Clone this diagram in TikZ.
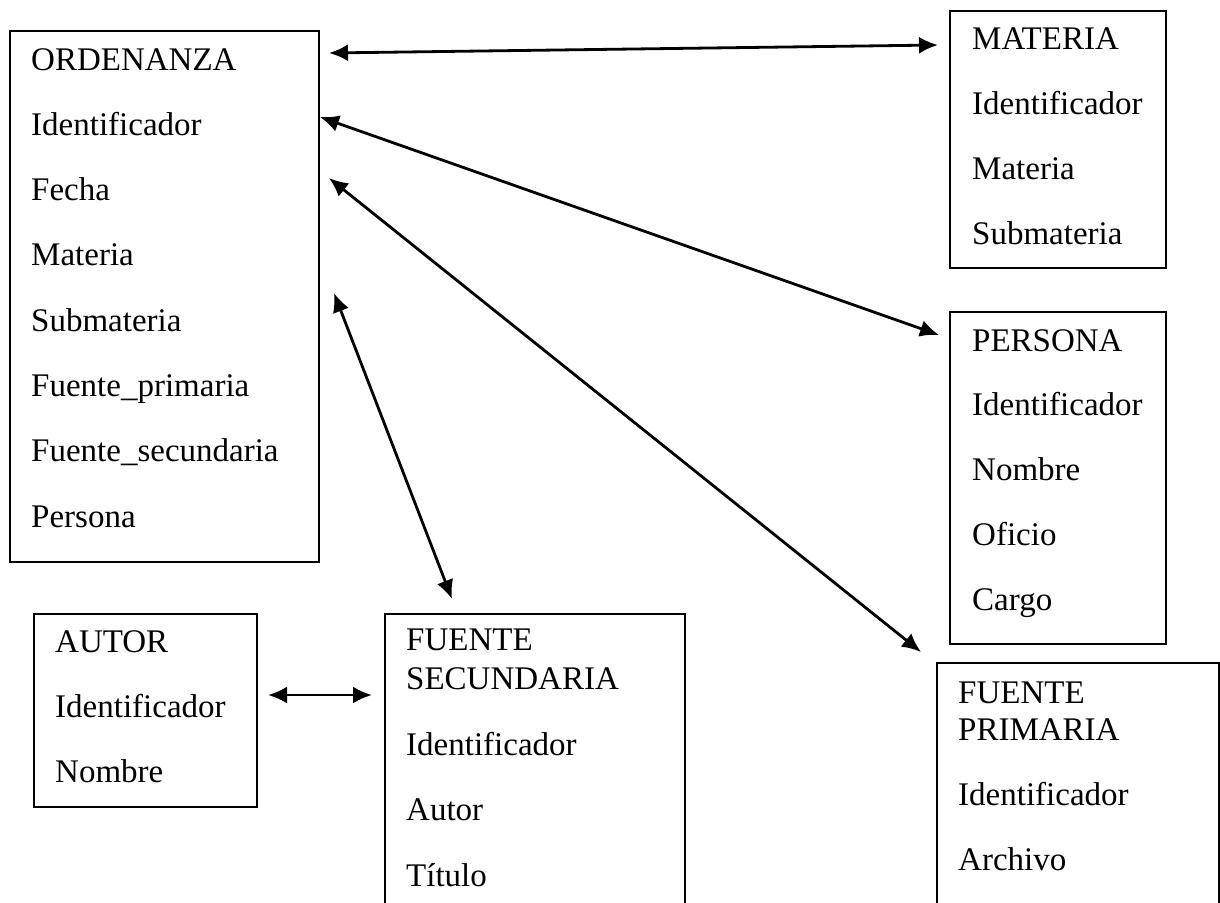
\documentclass[tikz,border=0pt]{standalone}
\usepackage{fontspec}
\setmainfont{Liberation Serif}
\usetikzlibrary{arrows.meta}
\begin{document}
\begin{tikzpicture}[x=1pt,y=-1pt,
  entity/.style={draw=black,line width=2.2pt,anchor=north west,inner sep=0pt,outer sep=0pt},
  fld/.style={anchor=base west,inner sep=0pt,font=\fontsize{33}{38}\selectfont},
  link/.style={line width=2.8pt,{Latex[length=19pt,width=17pt]}-{Latex[length=19pt,width=17pt]}}]
\clip (0,0) rectangle (1220,902);
\fill[white] (0,0) rectangle (1220,902);

% boxes
\node[entity,minimum width=309pt,minimum height=531pt] (ord) at (10,31) {};
\node[entity,minimum width=216pt,minimum height=257pt] (mat) at (950,11) {};
\node[entity,minimum width=216pt,minimum height=332pt] (per) at (950,312) {};
\node[entity,minimum width=282pt,minimum height=300pt] (fp) at (937,663) {};
\node[entity,minimum width=223pt,minimum height=193pt] (aut) at (34,614) {};
\node[entity,minimum width=300pt,minimum height=300pt] (fs) at (385,614) {};

% ORDENANZA fields
\foreach \t [count=\i] in {ORDENANZA,Identificador,Fecha,Materia,Submateria,Fuente\_primaria,Fuente\_secundaria,Persona}
  \node[fld] (ord-\i) at (31,{70+65.3*(\i-1)}) {\t};

% MATERIA fields
\foreach \t [count=\i] in {MATERIA,Identificador,Materia,Submateria}
  \node[fld] (mat-\i) at (972,{49+65.3*(\i-1)}) {\t};

% PERSONA fields
\foreach \t [count=\i] in {PERSONA,Identificador,Nombre,Oficio,Cargo}
  \node[fld] (per-\i) at (972,{351+64.8*(\i-1)}) {\t};

% FUENTE PRIMARIA fields
\node[fld] (fp-1) at (958,703) {FUENTE};
\node[fld] (fp-2) at (958,740) {PRIMARIA};
\node[fld] (fp-3) at (958,805) {Identificador};
\node[fld] (fp-4) at (958,870) {Archivo};

% AUTOR fields
\foreach \t [count=\i] in {AUTOR,Identificador,Nombre}
  \node[fld] (aut-\i) at (55,{652+65*(\i-1)}) {\t};

% FUENTE SECUNDARIA fields
\node[fld] (fs-1) at (406,650) {FUENTE};
\node[fld] (fs-2) at (406,689) {SECUNDARIA};
\node[fld] (fs-3) at (406,755) {Identificador};
\node[fld] (fs-4) at (406,820) {Autor};
\node[fld] (fs-5) at (406,886) {Título};

% connector end points
\coordinate (a1s) at (329,53);  \coordinate (a1e) at (938,45);
\coordinate (a2s) at (320,117); \coordinate (a2e) at (939,335);
\coordinate (a3s) at (329,178); \coordinate (a3e) at (921,652);
\coordinate (a4s) at (334,293); \coordinate (a4e) at (452,599);
\coordinate (a5s) at (268,695); \coordinate (a5e) at (372,695);

\draw[link] (a1s) -- (a1e);
\draw[link] (a2s) -- (a2e);
\draw[link] (a3s) -- (a3e);
\draw[link] (a4s) -- (a4e);
\draw[link] (a5s) -- (a5e);
\end{tikzpicture}
\end{document}
